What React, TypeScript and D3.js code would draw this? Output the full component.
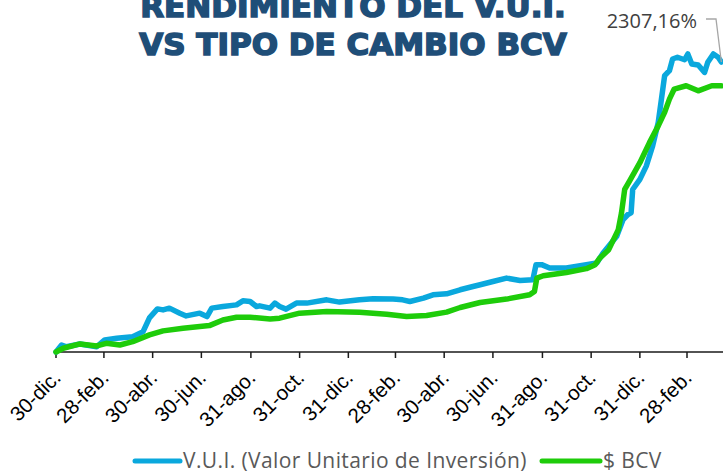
import React from "react";
import * as d3 from "d3";

const titleLines = ["RENDIMIENTO DEL V.U.I.", "VS TIPO DE CAMBIO BCV"];
const seriesNames = ["V.U.I. (Valor Unitario de Inversión)", "$ BCV"];
const endLabel = "2307,16%";

const tickDates = [
  "2020-12-30", "2021-02-28", "2021-04-30", "2021-06-30", "2021-08-31", "2021-10-31", "2021-12-31",
  "2022-02-28", "2022-04-30", "2022-06-30", "2022-08-31", "2022-10-31", "2022-12-31", "2023-02-28",
];
const tickLabels = [
  "30-dic.", "28-feb.", "30-abr.", "30-jun.", "31-ago.", "31-oct.", "31-dic.",
  "28-feb.", "30-abr.", "30-jun.", "31-ago.", "31-oct.", "31-dic.", "28-feb.",
];

const vuiDates = [
  "2020-12-30", "2021-01-06", "2021-01-12", "2021-01-29", "2021-02-19", "2021-03-01", "2021-03-16", "2021-04-05",
  "2021-04-18", "2021-04-26", "2021-05-06", "2021-05-13", "2021-05-21", "2021-06-03", "2021-06-11", "2021-06-28",
  "2021-07-07", "2021-07-13", "2021-07-27", "2021-08-13", "2021-08-21", "2021-08-30", "2021-09-07", "2021-09-11",
  "2021-09-24", "2021-09-30", "2021-10-06", "2021-10-14", "2021-10-27", "2021-11-09", "2021-12-04", "2021-12-20",
  "2022-01-14", "2022-01-31", "2022-02-25", "2022-03-09", "2022-03-18", "2022-04-04", "2022-04-16", "2022-05-03",
  "2022-05-20", "2022-06-05", "2022-06-14", "2022-06-30", "2022-07-17", "2022-08-03", "2022-08-19", "2022-08-23",
  "2022-08-30", "2022-09-09", "2022-09-30", "2022-10-25", "2022-11-07", "2022-11-15", "2022-12-02", "2022-12-10",
  "2022-12-16", "2022-12-20", "2022-12-22", "2022-12-31", "2023-01-08", "2023-01-16", "2023-01-23", "2023-01-27",
  "2023-01-31", "2023-02-06", "2023-02-10", "2023-02-16", "2023-02-25", "2023-03-01", "2023-03-06", "2023-03-14",
  "2023-03-22", "2023-03-26", "2023-04-02", "2023-04-08", "2023-04-12",
];
const vuiValues = [
  0, 56, 42, 64, 42, 96, 109, 122,
  162, 271, 343, 335, 349, 309, 287, 309,
  282, 349, 362, 375, 407, 402, 362, 367,
  349, 389, 362, 341, 389, 389, 415, 397,
  415, 423, 421, 415, 402, 429, 455, 463,
  495, 521, 535, 561, 588, 569, 575, 695,
  695, 668, 668, 695, 708, 788, 920, 1054,
  1094, 1107, 1293, 1373, 1479, 1639, 1826, 2012,
  2198, 2238, 2331, 2345, 2325, 2371, 2291, 2283,
  2225, 2305, 2371, 2345, 2307.16,
];

const bcvDates = [
  "2020-12-30", "2021-01-08", "2021-01-29", "2021-02-19", "2021-03-03", "2021-03-20", "2021-04-05", "2021-04-26",
  "2021-05-13", "2021-06-07", "2021-07-10", "2021-07-27", "2021-08-13", "2021-08-30", "2021-09-24", "2021-10-06",
  "2021-10-31", "2021-12-04", "2022-01-14", "2022-02-17", "2022-03-14", "2022-04-08", "2022-05-03", "2022-05-20",
  "2022-06-14", "2022-07-17", "2022-08-15", "2022-08-21", "2022-08-24", "2022-09-01", "2022-09-30", "2022-10-25",
  "2022-11-05", "2022-11-11", "2022-11-22", "2022-11-28", "2022-12-04", "2022-12-08", "2022-12-12", "2022-12-18",
  "2022-12-31", "2023-01-12", "2023-01-23", "2023-01-31", "2023-02-06", "2023-02-12", "2023-02-27", "2023-03-14",
  "2023-03-31", "2023-04-12",
];
const bcvValues = [
  0, 30, 64, 48, 69, 56, 82, 136,
  168, 189, 210, 255, 277, 277, 263, 269,
  309, 322, 317, 301, 282, 290, 317, 354,
  394, 421, 455, 481, 588, 607, 633, 663,
  695, 748, 814, 894, 974, 1107, 1293, 1360,
  1506, 1666, 1799, 1906, 2012, 2092, 2118, 2078,
  2118, 2118,
];

const BLUE = "#0AA8DD";
const GREEN = "#1ECC0A";

export default function App() {
  const W = 723;
  const H = 473;
  const parse = d3.timeParse("%Y-%m-%d");
  const x = d3
    .scaleTime()
    .domain([parse("2020-12-30")!, parse("2023-02-28")!])
    .range([56, 687]);
  const y = d3.scaleLinear().domain([0, 2307.16]).range([352, 62]);

  const vui = vuiDates.map((d, i) => ({ d: parse(d)!, v: vuiValues[i] }));
  const bcv = bcvDates.map((d, i) => ({ d: parse(d)!, v: bcvValues[i] }));

  const line = d3
    .line<{ d: Date; v: number }>()
    .x((p) => x(p.d))
    .y((p) => y(p.v));

  const ticks = tickDates.map((t) => parse(t)!);
  const last = vui[vui.length - 1];
  const lx = x(last.d);
  const ly = y(last.v);

  return (
    <svg
      width={W}
      height={H}
      style={{ position: "absolute", left: 0, top: 0, background: "#fff" }}
    >
      {titleLines.map((t, i) => (
        <text
          key={i}
          x={353}
          y={17 + i * 38}
          textAnchor="middle"
          fontFamily="DejaVu Sans"
          fontWeight="bold"
          fontSize={31}
          fill="#1F4E78"
          stroke="#1F4E78"
          strokeWidth={1.6}
        >
          {t}
        </text>
      ))}

      <line x1={56} x2={W} y1={352} y2={352} stroke="#1a1a1a" strokeWidth={1.5} />
      {ticks.map((t, i) => (
        <g key={i}>
          <line x1={x(t)} x2={x(t)} y1={352} y2={358} stroke="#1a1a1a" strokeWidth={1.5} />
          <text
            transform={`translate(${x(t) + 6},${379}) rotate(-45)`}
            textAnchor="end"
            fontFamily="Liberation Sans, Arial"
            fontSize={20.5}
            fill="#000"
          >
            {tickLabels[i]}
          </text>
        </g>
      ))}

      <path
        d={line(vui)!}
        fill="none"
        stroke={BLUE}
        strokeWidth={5.5}
        strokeLinejoin="round"
        strokeLinecap="round"
      />
      <path
        d={line(bcv)!}
        fill="none"
        stroke={GREEN}
        strokeWidth={5.5}
        strokeLinejoin="round"
        strokeLinecap="round"
      />

      <polyline
        points={`706,19 716,19 ${lx},${ly}`}
        fill="none"
        stroke="#A6A6A6"
        strokeWidth={1.3}
      />
      <text x={697} y={28} textAnchor="end" fontFamily="Open Sans" fontSize={20} fill="#404040">
        {endLabel}
      </text>

      <line x1={135} x2={180} y1={461} y2={461} stroke={BLUE} strokeWidth={5} strokeLinecap="round" />
      <text x={183} y={468} fontFamily="Open Sans" fontSize={21} letterSpacing={0.4} fill="#595959">
        {seriesNames[0]}
      </text>
      <line x1={542} x2={600} y1={461} y2={461} stroke={GREEN} strokeWidth={5} strokeLinecap="round" />
      <text x={603} y={468} fontFamily="Open Sans" fontSize={21} letterSpacing={0.4} fill="#595959">
        {seriesNames[1]}
      </text>
    </svg>
  );
}
